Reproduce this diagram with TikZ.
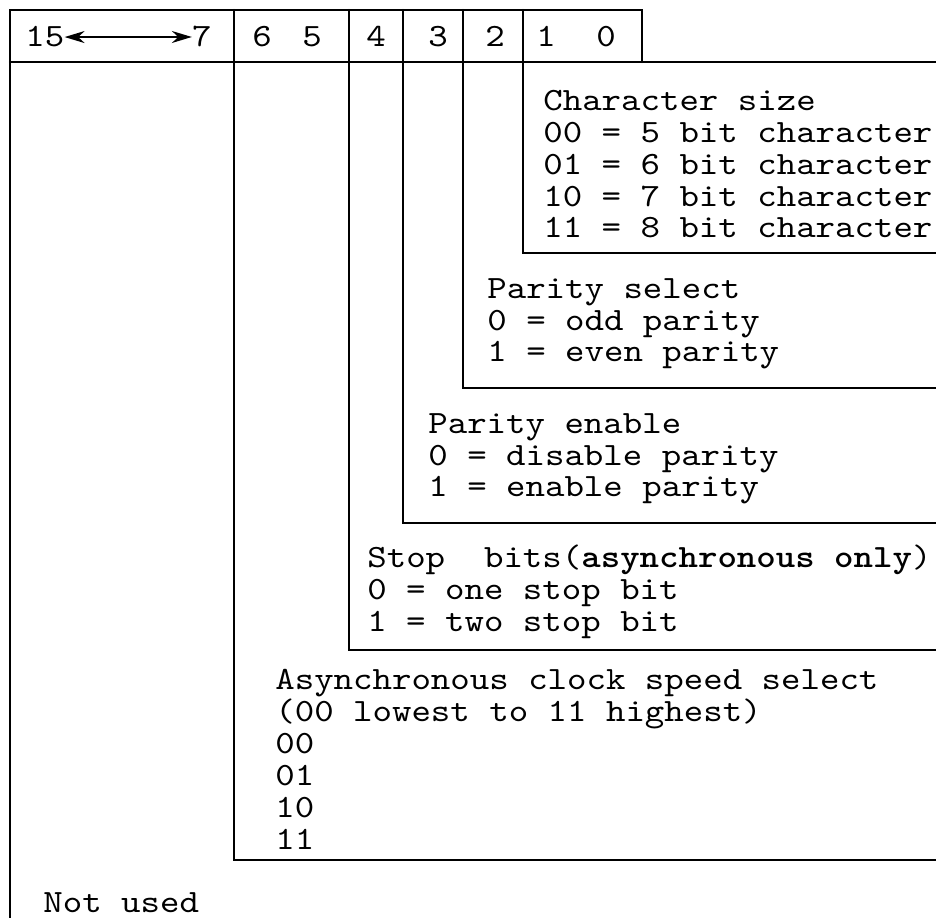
\documentclass[tikz,border=0pt]{standalone}
\usepackage{fontspec}
\setmainfont{lmmono10-regular.otf}[FakeStretch=1.14, BoldFont=lmmonolt10-bold.otf]
\usepackage{tikz}
\usetikzlibrary{arrows.meta,positioning}

\begin{document}
\begin{tikzpicture}[
        x=0.02cm, y=-0.02cm,
        every node/.style={font=\fontsize{18.5}{18.2}\selectfont},
        reg/.style={line width=1.3pt, line cap=round, line join=miter},
        bitno/.style={anchor=base, inner sep=0pt},
        field/.style={anchor=base west, align=left, inner sep=0pt},
        span/.style={line width=1pt, <->, >={Stealth[length=4mm,width=2.4mm]}},
    ]
        \useasboundingbox (0,0) rectangle (936,918);

        \draw[reg] (10,918) -- (10,10) -- (642,10) -- (642,62);
        \draw[reg] (10,62) -- (936,62);
        \draw[reg] (234,10) -- (234,860) -- (936,860);
        \draw[reg] (349,10) -- (349,650) -- (936,650);
        \draw[reg] (403,10) -- (403,523) -- (936,523);
        \draw[reg] (463,10) -- (463,388) -- (936,388);
        \draw[reg] (523,10) -- (523,253) -- (936,253);

        \node[bitno, anchor=base west] (b15) at (25,47) {15};
        \node[bitno, anchor=base east] (b7) at (212,47) {7};
        \node[bitno] (b6) at (262,47) {6};
        \node[bitno] (b5) at (312,47) {5};
        \node[bitno] (b4) at (376,47) {4};
        \node[bitno] (b3) at (438,47) {3};
        \node[bitno] (b2) at (495,47) {2};
        \node[bitno] (b1) at (546,47) {1};
        \node[bitno] (b0) at (606,47) {0};
        \draw[span] (b15) -- (b7);

        \node[field] (charsize) at (543,238) {Character size\\00 = 5 bit character\\01 = 6 bit character\\10 = 7 bit character\\11 = 8 bit character};
        \node[field] (parsel) at (487,362) {Parity select\\0 = odd parity\\1 = even parity};
        \node[field] (parena) at (428,497) {Parity enable\\0 = disable parity\\1 = enable parity};
        \node[field] (stopbits) at (367,631) {Stop\ \ bits(\textbf{asynchronous only})\\0 = one stop bit\\1 = two stop bit};
        \node[field] (clock) at (275,849) {Asynchronous clock speed select\\(00 lowest to 11 highest)\\00\\01\\10\\11};
        \node[field] (unused) at (43,912) {Not used};
    \end{tikzpicture}
\end{document}
